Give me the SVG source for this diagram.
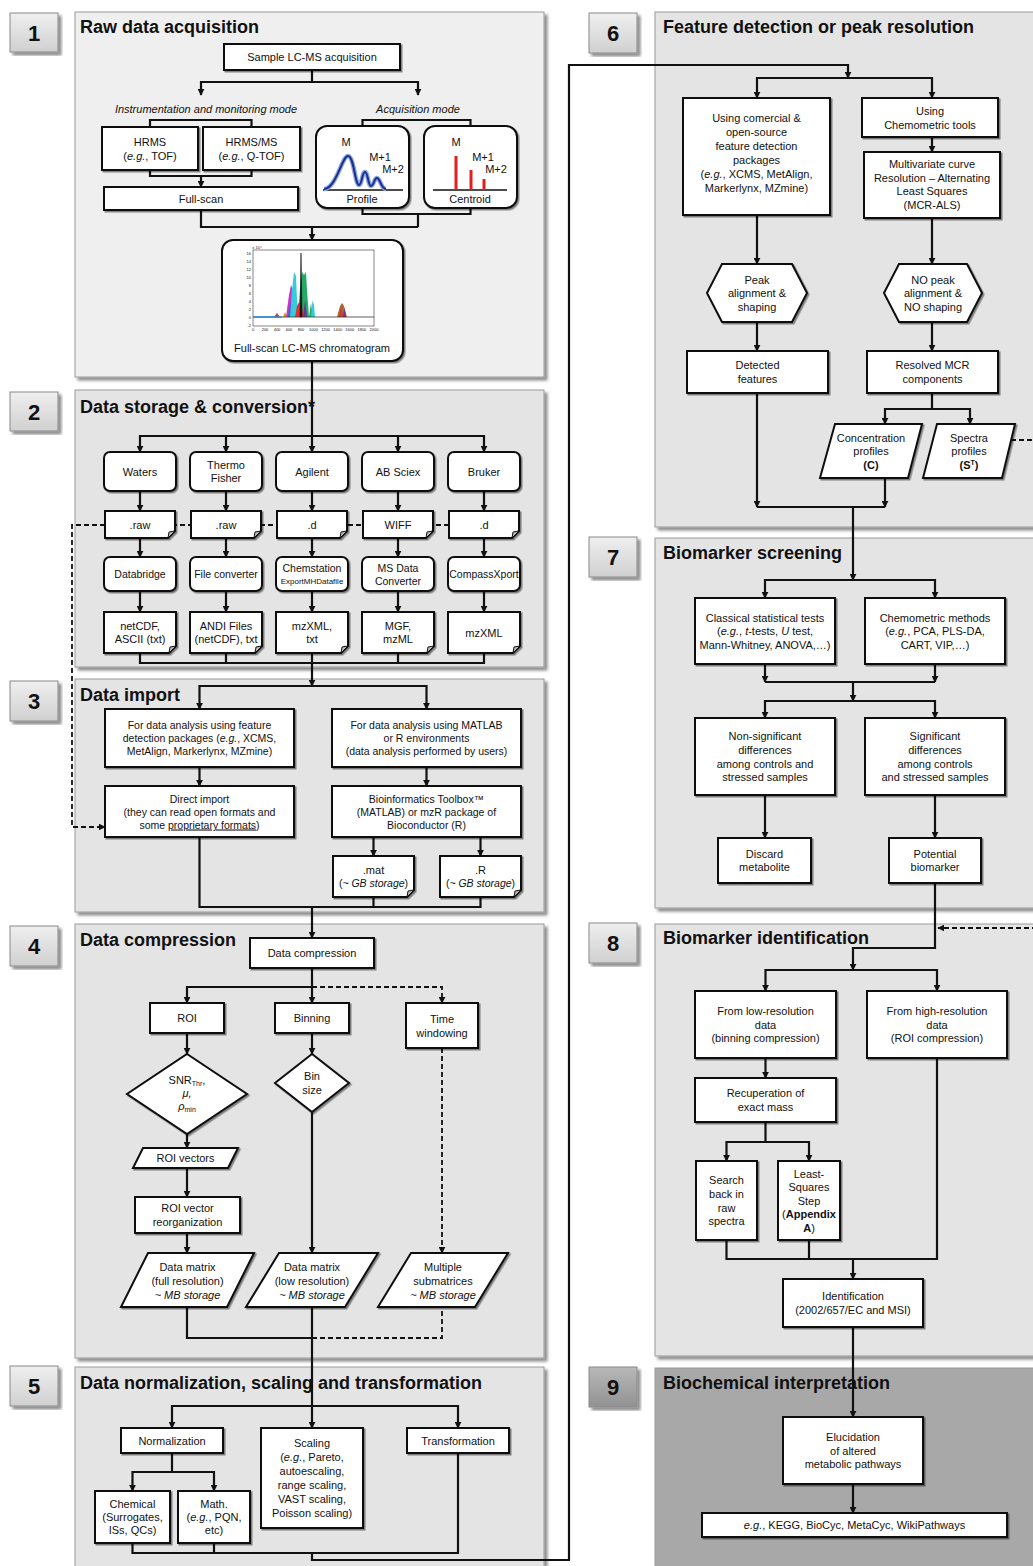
<svg xmlns="http://www.w3.org/2000/svg" width="1033" height="1566" viewBox="0 0 1033 1566">
<defs>
<style>
text{font-family:"Liberation Sans",Arial,Helvetica,sans-serif;fill:#111}
.t{font-size:11px;text-anchor:middle}
.s{font-size:10.5px}
.i{font-style:italic}
.b{font-weight:bold}
.ttl{font-size:18px;font-weight:bold}
.num{font-size:22px;font-weight:bold;text-anchor:middle}
.panel{fill:#e4e4e4;stroke:#9a9a9a;stroke-width:1;filter:url(#psh)}
.nbox{fill:url(#ng);stroke:#8a8a8a;stroke-width:1;filter:url(#psh)}
.bx{fill:#fff;stroke:#111;stroke-width:2;filter:url(#sh)}
.ln{fill:none;stroke:#111;stroke-width:2.2}
.ar{marker-end:url(#ah)}
.ds{stroke-dasharray:5 3;stroke-width:1.8}
.fold{fill:#bbb;stroke:#111;stroke-width:1}
.tiny{font-size:4px;text-anchor:middle}
</style>
<linearGradient id="ng" x1="0" y1="0" x2="0" y2="1"><stop offset="0" stop-color="#efefef"/><stop offset="1" stop-color="#d0d0d0"/></linearGradient>
<linearGradient id="ng9" x1="0" y1="0" x2="0" y2="1"><stop offset="0" stop-color="#b8b8b8"/><stop offset="1" stop-color="#929292"/></linearGradient>
<filter id="sh" x="-10%" y="-10%" width="130%" height="140%"><feDropShadow dx="1.5" dy="1.5" stdDeviation="0.7" flood-color="#000" flood-opacity="0.45"/></filter>
<filter id="psh" x="-5%" y="-5%" width="115%" height="115%"><feDropShadow dx="3" dy="3" stdDeviation="1.5" flood-color="#000" flood-opacity="0.45"/></filter>
<marker id="ah" viewBox="0 0 10 10" refX="9" refY="5" markerWidth="7" markerHeight="7" markerUnits="userSpaceOnUse" orient="auto"><path d="M0,0 L10,5 L0,10 z" fill="#111"/></marker>
</defs>
<rect width="1033" height="1566" fill="#fff"/>

<g id="panels">
<g id="panel1"><rect class="panel" x="75" y="12" width="469" height="365" style="fill:#efefef"/><text class="ttl" x="80" y="33">Raw data acquisition</text></g>
<g id="panel2"><rect class="panel" x="75" y="390" width="469" height="277"/><text class="ttl" x="80" y="413">Data storage &amp; conversion*</text></g>
<g id="panel3"><rect class="panel" x="75" y="679" width="469" height="233"/><text class="ttl" x="80" y="701">Data import</text></g>
<g id="panel4"><rect class="panel" x="75" y="924" width="469" height="434"/><text class="ttl" x="80" y="946">Data compression</text></g>
<g id="panel5"><rect class="panel" x="75" y="1367" width="469" height="210"/><text class="ttl" x="80" y="1389">Data normalization, scaling and transformation</text></g>
<g id="panel6"><rect class="panel" x="655" y="12" width="385" height="515"/><text class="ttl" x="663" y="33">Feature detection or peak resolution</text></g>
<g id="panel7"><rect class="panel" x="655" y="538" width="385" height="370"/><text class="ttl" x="663" y="559">Biomarker screening</text></g>
<g id="panel8"><rect class="panel" x="655" y="924" width="385" height="432"/><text class="ttl" x="663" y="944">Biomarker identification</text></g>
<g id="panel9"><rect class="panel" x="655" y="1368" width="385" height="210" style="fill:#a8a8a8"/><text class="ttl" x="663" y="1389">Biochemical  interpretation</text></g>
</g>

<g id="steps">
<g id="step1"><rect class="nbox" x="10" y="13" width="48" height="39"/><text class="num" x="34" y="40.5">1</text></g>
<g id="step2"><rect class="nbox" x="10" y="392" width="48" height="39"/><text class="num" x="34" y="419.5">2</text></g>
<g id="step3"><rect class="nbox" x="10" y="681" width="48" height="40"/><text class="num" x="34" y="709">3</text></g>
<g id="step4"><rect class="nbox" x="10" y="926" width="48" height="40"/><text class="num" x="34" y="954">4</text></g>
<g id="step5"><rect class="nbox" x="10" y="1366" width="48" height="40"/><text class="num" x="34" y="1394">5</text></g>
<g id="step6"><rect class="nbox" x="589" y="13" width="48" height="40"/><text class="num" x="613" y="41">6</text></g>
<g id="step7"><rect class="nbox" x="589" y="537" width="48" height="40"/><text class="num" x="613" y="565">7</text></g>
<g id="step8"><rect class="nbox" x="589" y="923" width="48" height="40"/><text class="num" x="613" y="951">8</text></g>
<g id="step9"><rect class="nbox" x="589" y="1367" width="48" height="40" style="fill:url(#ng9)"/><text class="num" x="613" y="1395">9</text></g>
</g>

<g id="connectors">
<!-- section 1 -->
<path class="ln ar" d="M312,70 V82 H201 V95"/>
<path class="ln ar" d="M312,82 H418 V95"/>
<path class="ln" d="M150,127 V120 H251.5 V127"/>
<path class="ln" d="M150,170 V176 H251.5 V170"/>
<path class="ln ar" d="M201,176 V187"/>
<path class="ln" d="M362.5,126 V120 H470.5 V126"/>
<path class="ln" d="M362.5,208 V214 H470.5 V208"/>
<path class="ln" d="M418,214 V227"/>
<path class="ln" d="M201,210 V227 H418"/>
<path class="ln ar" d="M312,227 V240"/>
<!-- section 2 -->
<path class="ln ar" d="M312,361 V452"/>
<path class="ln ar" d="M312,436 H140 V452"/>
<path class="ln ar" d="M226,436 V452"/>
<path class="ln ar" d="M312,436 H484 V452"/>
<path class="ln ar" d="M398,436 V452"/>
<path class="ln ds ar" d="M449,525 H72 V827 H105"/>
<path class="ln ar" d="M140,491 V511"/><path class="ln ar" d="M226,491 V511"/><path class="ln ar" d="M312,491 V511"/><path class="ln ar" d="M398,491 V511"/><path class="ln ar" d="M484,491 V511"/>
<path class="ln ar" d="M140,538 V557"/><path class="ln ar" d="M226,538 V557"/><path class="ln ar" d="M312,538 V557"/><path class="ln ar" d="M398,538 V557"/><path class="ln ar" d="M484,538 V557"/>
<path class="ln ar" d="M140,591 V612"/><path class="ln ar" d="M226,591 V612"/><path class="ln ar" d="M312,591 V612"/><path class="ln ar" d="M398,591 V612"/><path class="ln ar" d="M484,591 V612"/>
<path class="ln" d="M140,653 V663 H484 V653"/>
<path class="ln" d="M226,653 V663"/><path class="ln" d="M398,653 V663"/>
<!-- section 3 -->
<path class="ln ar" d="M312,653 V686"/>
<path class="ln ar" d="M312,686 H199.5 V709"/>
<path class="ln ar" d="M312,686 H426.5 V709"/>
<path class="ln ar" d="M199.5,767 V786"/>
<path class="ln ar" d="M426.5,767 V786"/>
<path class="ln ar" d="M373.5,837 V856"/>
<path class="ln ar" d="M480.5,837 V856"/>
<path class="ln" d="M199.5,837 V907 H480.5 V897"/>
<path class="ln" d="M373.5,897 V907"/>
<!-- section 4 -->
<path class="ln ar" d="M312,907 V938"/>
<path class="ln ar" d="M312,968 V987 H187 V1003"/>
<path class="ln ar" d="M312,987 V1003"/>
<path class="ln ds ar" d="M312,987 H442 V1003"/>
<path class="ln ar" d="M187,1033 V1054"/>
<path class="ln ar" d="M312,1033 V1054"/>
<path class="ln ds ar" d="M442,1048 V1253"/>
<path class="ln ar" d="M187,1134 V1148"/>
<path class="ln ar" d="M187,1168 V1197"/>
<path class="ln ar" d="M187,1233 V1253"/>
<path class="ln ar" d="M312,1112 V1253"/>
<path class="ln" d="M187,1307 V1338 H312"/>
<path class="ln ds" d="M312,1338 H442 V1307"/>
<!-- section 5 -->
<path class="ln ar" d="M312,1307 V1428"/>
<path class="ln ar" d="M312,1406 H172 V1428"/>
<path class="ln ar" d="M312,1406 H458 V1428"/>
<path class="ln ar" d="M172,1453 V1472 H132.5 V1491"/>
<path class="ln ar" d="M172,1472 H214 V1491"/>
<path class="ln" d="M132.5,1543 V1553 H458 V1453"/>
<path class="ln" d="M214,1543 V1553"/>
<path class="ln ar" d="M312,1553 V1560 H569 V65 H848 V78"/>
<!-- section 6 -->
<path class="ln ar" d="M848,78 H757 V98"/>
<path class="ln ar" d="M848,78 H932 V98"/>
<path class="ln ar" d="M932,137 V152"/>
<path class="ln ar" d="M757,215 V264"/>
<path class="ln ar" d="M932,218 V264"/>
<path class="ln ar" d="M757,322 V351"/>
<path class="ln ar" d="M932,322 V351"/>
<path class="ln ar" d="M932,393 V409 H885 V424"/>
<path class="ln ar" d="M932,409 H970 V424"/>
<path class="ln ar" d="M757,393 V507"/>
<path class="ln ar" d="M885,478 V507"/>
<path class="ln" d="M757,507 H885"/>
<path class="ln ds ar" d="M1011,440 H1040 V928 H938"/>
<!-- section 7 -->
<path class="ln ar" d="M853,507 V580"/>
<path class="ln ar" d="M853,580 H765 V598"/>
<path class="ln ar" d="M853,580 H935 V598"/>
<path class="ln ar" d="M765,664 V682"/>
<path class="ln ar" d="M935,664 V682"/>
<path class="ln" d="M765,682 H935"/>
<path class="ln ar" d="M853,682 V701"/>
<path class="ln ar" d="M853,701 H765 V718"/>
<path class="ln ar" d="M853,701 H935 V718"/>
<path class="ln ar" d="M765,795 V838"/>
<path class="ln ar" d="M935,795 V838"/>
<!-- section 8 -->
<path class="ln ar" d="M935,883 V948 H853 V970"/>
<path class="ln ar" d="M853,970 H765.5 V991"/>
<path class="ln ar" d="M853,970 H937 V991"/>
<path class="ln ar" d="M765.5,1058 V1078"/>
<path class="ln ar" d="M765.5,1122 V1142 H726.5 V1161"/>
<path class="ln ar" d="M765.5,1142 H809 V1161"/>
<path class="ln" d="M726.5,1240 V1259 H937 V1058"/>
<path class="ln" d="M809,1240 V1259"/>
<path class="ln ar" d="M853,1259 V1279"/>
<!-- section 9 -->
<path class="ln ar" d="M853,1327 V1417"/>
<path class="ln ar" d="M853,1484 V1513"/>
</g>

<g id="nodes">
<!-- section 1 -->
<g id="n-sample"><rect class="bx" x="224" y="44" width="176" height="26"/><text class="t" x="312" y="61">Sample LC-MS acquisition</text></g>
<g id="lbl-instr"><text class="t i" x="206" y="113">Instrumentation and monitoring mode</text></g>
<g id="lbl-acq"><text class="t i" x="418" y="113">Acquisition mode</text></g>
<g id="n-hrms"><rect class="bx" x="102" y="127" width="96" height="43"/><text class="t" x="150" y="146">HRMS</text><text class="t" x="150" y="160">(<tspan class="i">e.g.</tspan>, TOF)</text></g>
<g id="n-hrmsms"><rect class="bx" x="203" y="127" width="97" height="43"/><text class="t" x="251.5" y="146">HRMS/MS</text><text class="t" x="251.5" y="160">(<tspan class="i">e.g.</tspan>, Q-TOF)</text></g>
<g id="n-fullscan"><rect class="bx" x="104" y="187" width="194" height="23"/><text class="t" x="201" y="202.5">Full-scan</text></g>
<g id="n-profile"><rect class="bx" x="316" y="126" width="93" height="82" rx="11"/>
<text class="t" x="346" y="146">M</text><text class="t" x="380" y="161">M+1</text><text class="t" x="393" y="173">M+2</text>
<path d="M323,190 H403" stroke="#111" stroke-width="1.6"/>
<path d="M324,189 C336,189 342,156 348,156 C354,156 355,185 359,185 C362,185 362,172 365,172 C368,172 368,186 371,186 C374,186 374,178 377,178 C380,178 381,189 386,189" fill="none" stroke="#8aa4e6" stroke-width="4.5"/>
<path d="M324,189 C336,189 342,156 348,156 C354,156 355,185 359,185 C362,185 362,172 365,172 C368,172 368,186 371,186 C374,186 374,178 377,178 C380,178 381,189 386,189" fill="none" stroke="#1c2f8a" stroke-width="2"/>
<text class="t" x="362" y="203">Profile</text></g>
<g id="n-centroid"><rect class="bx" x="424" y="126" width="93" height="82" rx="11"/>
<text class="t" x="456" y="146">M</text><text class="t" x="483" y="161">M+1</text><text class="t" x="496" y="173">M+2</text>
<path d="M433,190 H507" stroke="#111" stroke-width="1.6"/>
<path d="M456,190 V156 M471,190 V170 M484,190 V179" stroke="#e0201e" stroke-width="3"/>
<text class="t" x="470" y="203">Centroid</text></g>
<g id="n-chromatogram"><rect class="bx" x="222" y="240" width="181" height="121" rx="11"/>
<rect x="253" y="250" width="121" height="76" fill="#fff" stroke="#333" stroke-width="0.6"/>
<text class="tiny" x="257" y="248.5">x 10⁴</text>
<g><text class="tiny" x="251" y="254.5" style="text-anchor:end">16</text><text class="tiny" x="251" y="262.5" style="text-anchor:end">14</text><text class="tiny" x="251" y="270.5" style="text-anchor:end">12</text><text class="tiny" x="251" y="278.5" style="text-anchor:end">10</text><text class="tiny" x="251" y="286.5" style="text-anchor:end">8</text><text class="tiny" x="251" y="294.5" style="text-anchor:end">6</text><text class="tiny" x="251" y="302.5" style="text-anchor:end">4</text><text class="tiny" x="251" y="310.5" style="text-anchor:end">2</text><text class="tiny" x="251" y="318.5" style="text-anchor:end">0</text><text class="tiny" x="251" y="326.5" style="text-anchor:end">-2</text></g>
<text class="tiny" x="253" y="331">0</text><text class="tiny" x="265" y="331">200</text><text class="tiny" x="277" y="331">400</text><text class="tiny" x="289" y="331">600</text><text class="tiny" x="301" y="331">800</text><text class="tiny" x="313.5" y="331">1000</text><text class="tiny" x="325.6" y="331">1200</text><text class="tiny" x="337.7" y="331">1400</text><text class="tiny" x="349.8" y="331">1600</text><text class="tiny" x="361.9" y="331">1800</text><text class="tiny" x="374" y="331">2000</text>
<polygon points="274,317 277,313 280,317" fill="#d33"/>
<polygon points="283,317 285,312 287,317" fill="#e80"/>
<polygon points="286,317 289,295 291,285 293,290 295,300 297,317" fill="#c3c"/>
<polygon points="288,317 290,300 292,317" fill="#36c"/>
<polygon points="290,317 292,290 294,272 296,276 297,300 299,317" fill="#3cd"/>
<polygon points="298,317 300,290 302,272 304,275 306,272 307,290 309,317" fill="#2a6"/>
<polygon points="295,317 297,306 299,302 302,308 304,317" fill="#d33"/>
<polygon points="303,317 305,300 307,317" fill="#639"/>
<polygon points="300,317 301,253 302,317" fill="#111" stroke="#111" stroke-width="0.6"/>
<polygon points="309,317 311,303 313,317" fill="#2a6"/>
<polygon points="311,317 312.5,300 314,305 315,317" fill="#3cd"/>
<polygon points="337,317 340,306 342,303 344,306 347,317" fill="#a63"/>
<polygon points="339,317 341,307 343,317" fill="#d33"/>
<polygon points="343,317 344.5,308 346,317" fill="#639"/>
<path d="M253,317 H374" stroke="#333" stroke-width="0.8"/>
<path d="M253,317 H282" stroke="#2a8fd8" stroke-width="1.6"/>
<text class="t" x="312" y="352">Full-scan LC-MS chromatogram</text></g>

<!-- section 2 -->
<g id="n-waters"><rect class="bx" x="104" y="452" width="72" height="39" rx="6"/><text class="t" x="140" y="475.5">Waters</text></g>
<g id="n-thermo"><rect class="bx" x="190" y="452" width="72" height="39" rx="6"/><text class="t" x="226" y="469">Thermo</text><text class="t" x="226" y="482">Fisher</text></g>
<g id="n-agilent"><rect class="bx" x="276" y="452" width="72" height="39" rx="6"/><text class="t" x="312" y="475.5">Agilent</text></g>
<g id="n-absciex"><rect class="bx" x="362" y="452" width="72" height="39" rx="6"/><text class="t" x="398" y="475.5">AB Sciex</text></g>
<g id="n-bruker"><rect class="bx" x="448" y="452" width="72" height="39" rx="6"/><text class="t" x="484" y="475.5">Bruker</text></g>

<g id="f-waters"><path class="bx" d="M105,511H175V531L168,538H105Z"/><path class="fold" d="M175,531L168,538L169,532Z"/><text class="t" x="140" y="528.5">.raw</text></g>
<g id="f-thermo"><path class="bx" d="M191,511H261V531L254,538H191Z"/><path class="fold" d="M261,531L254,538L255,532Z"/><text class="t" x="226" y="528.5">.raw</text></g>
<g id="f-agilent"><path class="bx" d="M277,511H347V531L340,538H277Z"/><path class="fold" d="M347,531L340,538L341,532Z"/><text class="t" x="312" y="528.5">.d</text></g>
<g id="f-absciex"><path class="bx" d="M363,511H433V531L426,538H363Z"/><path class="fold" d="M433,531L426,538L427,532Z"/><text class="t" x="398" y="528.5">WIFF</text></g>
<g id="f-bruker"><path class="bx" d="M449,511H519V531L512,538H449Z"/><path class="fold" d="M519,531L512,538L513,532Z"/><text class="t" x="484" y="528.5">.d</text></g>

<g id="c-databridge"><rect class="bx" x="104" y="557" width="72" height="34" rx="6"/><text class="t s" x="140" y="578">Databridge</text></g>
<g id="c-fileconv"><rect class="bx" x="190" y="557" width="72" height="34" rx="6"/><text class="t s" x="226" y="578">File converter</text></g>
<g id="c-chemstation"><rect class="bx" x="276" y="557" width="72" height="34" rx="6"/><text class="t s" x="312" y="572">Chemstation</text><text class="t" x="312" y="584" style="font-size:8px">ExportMHDatafile</text></g>
<g id="c-msdata"><rect class="bx" x="362" y="557" width="72" height="34" rx="6"/><text class="t s" x="398" y="571.5">MS Data</text><text class="t s" x="398" y="584.5">Converter</text></g>
<g id="c-compass"><rect class="bx" x="448" y="557" width="72" height="34" rx="6"/><text class="t s" x="484" y="578">CompassXport</text></g>

<g id="o-waters"><path class="bx" d="M104,612H176V646L169,653H104Z"/><path class="fold" d="M176,646L169,653L170,647Z"/><text class="t" x="140" y="630">netCDF,</text><text class="t" x="140" y="643">ASCII (txt)</text></g>
<g id="o-thermo"><path class="bx" d="M190,612H262V646L255,653H190Z"/><path class="fold" d="M262,646L255,653L256,647Z"/><text class="t" x="226" y="630">ANDI Files</text><text class="t" x="226" y="643">(netCDF), txt</text></g>
<g id="o-agilent"><path class="bx" d="M276,612H348V646L341,653H276Z"/><path class="fold" d="M348,646L341,653L342,647Z"/><text class="t" x="312" y="630">mzXML,</text><text class="t" x="312" y="643">txt</text></g>
<g id="o-absciex"><path class="bx" d="M362,612H434V646L427,653H362Z"/><path class="fold" d="M434,646L427,653L428,647Z"/><text class="t" x="398" y="630">MGF,</text><text class="t" x="398" y="643">mzML</text></g>
<g id="o-bruker"><path class="bx" d="M448,612H520V646L513,653H448Z"/><path class="fold" d="M520,646L513,653L514,647Z"/><text class="t" x="484" y="636.5">mzXML</text></g>

<!-- section 3 -->
<g id="n-featpkg"><rect class="bx" x="105" y="709" width="189" height="58"/><text class="t s" x="199.5" y="729">For data analysis using feature</text><text class="t s" x="199.5" y="742">detection packages (<tspan class="i">e.g.</tspan>, XCMS,</text><text class="t s" x="199.5" y="755">MetAlign, Markerlynx, MZmine)</text></g>
<g id="n-matlabr"><rect class="bx" x="332" y="709" width="189" height="58"/><text class="t s" x="426.5" y="729">For data analysis using MATLAB</text><text class="t s" x="426.5" y="742">or R environments</text><text class="t s" x="426.5" y="755">(data analysis performed by users)</text></g>
<g id="n-direct"><rect class="bx" x="105" y="786" width="189" height="51"/><text class="t s" x="199.5" y="802.5">Direct import</text><text class="t s" x="199.5" y="815.5">(they can read open formats and</text><text class="t s" x="199.5" y="828.5">some <tspan text-decoration="underline">proprietary formats</tspan>)</text></g>
<g id="n-bioinf"><rect class="bx" x="332" y="786" width="189" height="51"/><text class="t s" x="426.5" y="802.5">Bioinformatics Toolbox™</text><text class="t s" x="426.5" y="815.5">(MATLAB) or mzR package of</text><text class="t s" x="426.5" y="828.5">Bioconductor (R)</text></g>
<g id="n-mat"><path class="bx" d="M333,856H414V890L407,897H333Z"/><path class="fold" d="M414,890L407,897L408,891Z"/><text class="t" x="373.5" y="874">.mat</text><text class="t s" x="373.5" y="887">(<tspan class="i">~ GB storage</tspan>)</text></g>
<g id="n-r"><path class="bx" d="M440,856H521V890L514,897H440Z"/><path class="fold" d="M521,890L514,897L515,891Z"/><text class="t" x="480.5" y="874">.R</text><text class="t s" x="480.5" y="887">(<tspan class="i">~ GB storage</tspan>)</text></g>

<!-- section 4 -->
<g id="n-datacomp"><rect class="bx" x="250" y="938" width="124" height="30"/><text class="t" x="312" y="957">Data compression</text></g>
<g id="n-roi"><rect class="bx" x="150" y="1003" width="74" height="30"/><text class="t" x="187" y="1022">ROI</text></g>
<g id="n-binning"><rect class="bx" x="275" y="1003" width="74" height="30"/><text class="t" x="312" y="1022">Binning</text></g>
<g id="n-timewin"><rect class="bx" x="406" y="1003" width="72" height="45"/><text class="t" x="442" y="1023">Time</text><text class="t" x="442" y="1037">windowing</text></g>
<g id="n-roiparams"><polygon class="bx" points="187,1054 247,1094 187,1134 127,1094"/><text class="t" x="187" y="1084">SNR<tspan font-size="7" dy="2">Thr</tspan><tspan dy="-2">,</tspan></text><text class="t i" x="187" y="1097">μ,</text><text class="t i" x="187" y="1110">ρ<tspan font-size="7" dy="2" font-style="normal">min</tspan></text></g>
<g id="n-binsize"><polygon class="bx" points="312,1054 349,1083 312,1112 275,1083"/><text class="t" x="312" y="1080">Bin</text><text class="t" x="312" y="1094">size</text></g>
<g id="n-roivec"><polygon class="bx" points="143,1148 238,1148 228,1168 133,1168"/><text class="t" x="185.5" y="1162">ROI vectors</text></g>
<g id="n-roireorg"><rect class="bx" x="135" y="1197" width="105" height="36"/><text class="t" x="187.5" y="1212">ROI vector</text><text class="t" x="187.5" y="1226">reorganization</text></g>
<g id="n-dmfull"><polygon class="bx" points="148,1253 254,1253 227,1307 121,1307"/><text class="t" x="187.5" y="1271">Data matrix</text><text class="t" x="187.5" y="1285">(full  resolution)</text><text class="t i" x="187.5" y="1299">~ MB storage</text></g>
<g id="n-dmlow"><polygon class="bx" points="279,1253 378,1253 345,1307 246,1307"/><text class="t" x="312" y="1271">Data matrix</text><text class="t" x="312" y="1285">(low resolution)</text><text class="t i" x="312" y="1299">~ MB storage</text></g>
<g id="n-multi"><polygon class="bx" points="411,1253 508,1253 475,1307 378,1307"/><text class="t" x="443" y="1271">Multiple</text><text class="t" x="443" y="1285">submatrices</text><text class="t i" x="443" y="1299">~ MB storage</text></g>

<!-- section 5 -->
<g id="n-norm"><rect class="bx" x="121" y="1428" width="102" height="25"/><text class="t" x="172" y="1444.5">Normalization</text></g>
<g id="n-scaling"><rect class="bx" x="261" y="1428" width="102" height="100"/><text class="t" x="312" y="1447">Scaling</text><text class="t" x="312" y="1461">(<tspan class="i">e.g.</tspan>, Pareto,</text><text class="t" x="312" y="1475">autoescaling,</text><text class="t" x="312" y="1489">range scaling,</text><text class="t" x="312" y="1503">VAST scaling,</text><text class="t" x="312" y="1517">Poisson scaling)</text></g>
<g id="n-transf"><rect class="bx" x="407" y="1428" width="102" height="25"/><text class="t" x="458" y="1444.5">Transformation</text></g>
<g id="n-chem"><rect class="bx" x="95" y="1491" width="75" height="52"/><text class="t" x="132.5" y="1508">Chemical</text><text class="t" x="132.5" y="1521">(Surrogates,</text><text class="t" x="132.5" y="1534">ISs, QCs)</text></g>
<g id="n-math"><rect class="bx" x="178" y="1491" width="72" height="52"/><text class="t" x="214" y="1508">Math.</text><text class="t" x="214" y="1521">(<tspan class="i">e.g.</tspan>, PQN,</text><text class="t" x="214" y="1534">etc)</text></g>

<!-- section 6 -->
<g id="n-comercial"><rect class="bx" x="683" y="98" width="147" height="117"/><text class="t" x="756.5" y="122">Using comercial &amp;</text><text class="t" x="756.5" y="136">open-source</text><text class="t" x="756.5" y="150">feature detection</text><text class="t" x="756.5" y="164">packages</text><text class="t" x="756.5" y="178">(<tspan class="i">e.g.</tspan>, XCMS, MetAlign,</text><text class="t" x="756.5" y="192">Markerlynx, MZmine)</text></g>
<g id="n-chemtools"><rect class="bx" x="862" y="98" width="136" height="39"/><text class="t" x="930" y="115">Using</text><text class="t" x="930" y="128.5">Chemometric tools</text></g>
<g id="n-mcrals"><rect class="bx" x="864" y="152" width="136" height="66"/><text class="t" x="932" y="168">Multivariate curve</text><text class="t" x="932" y="181.5">Resolution – Alternating</text><text class="t" x="932" y="195">Least Squares</text><text class="t" x="932" y="208.5">(MCR-ALS)</text></g>
<g id="n-peakalign"><polygon class="bx" points="707,293 722,264 792,264 807,293 792,322 722,322"/><text class="t" x="757" y="283.5">Peak</text><text class="t" x="757" y="297">alignment &amp;</text><text class="t" x="757" y="310.5">shaping</text></g>
<g id="n-nopeak"><polygon class="bx" points="884,293 899,264 967,264 982,293 967,322 899,322"/><text class="t" x="933" y="283.5">NO peak</text><text class="t" x="933" y="297">alignment &amp;</text><text class="t" x="933" y="310.5">NO shaping</text></g>
<g id="n-detected"><rect class="bx" x="687" y="351" width="141" height="42"/><text class="t" x="757.5" y="369">Detected</text><text class="t" x="757.5" y="383">features</text></g>
<g id="n-resolved"><rect class="bx" x="867" y="351" width="131" height="42"/><text class="t" x="932.5" y="369">Resolved MCR</text><text class="t" x="932.5" y="383">components</text></g>
<g id="n-conc"><polygon class="bx" points="835,424 922,424 908,478 820,478"/><text class="t" x="871" y="441.5">Concentration</text><text class="t" x="871" y="455">profiles</text><text class="t b" x="871" y="468.5">(C)</text></g>
<g id="n-spectra"><polygon class="bx" points="937,424 1015,424 1002,478 923,478"/><text class="t" x="969" y="441.5">Spectra</text><text class="t" x="969" y="455">profiles</text><text class="t b" x="969" y="468.5">(S<tspan font-size="7" dy="-4">T</tspan><tspan dy="4">)</tspan></text></g>

<!-- section 7 -->
<g id="n-classical"><rect class="bx" x="695" y="598" width="140" height="66"/><text class="t" x="765" y="621.5">Classical statistical tests</text><text class="t" x="765" y="635">(<tspan class="i">e.g.</tspan>, <tspan class="i">t</tspan>-tests, <tspan class="i">U</tspan> test,</text><text class="t" x="765" y="648.5">Mann-Whitney, ANOVA,…)</text></g>
<g id="n-chemmeth"><rect class="bx" x="865" y="598" width="140" height="66"/><text class="t" x="935" y="621.5">Chemometric methods</text><text class="t" x="935" y="635">(<tspan class="i">e.g.</tspan>, PCA, PLS-DA,</text><text class="t" x="935" y="648.5">CART, VIP,…)</text></g>
<g id="n-nonsig"><rect class="bx" x="695" y="718" width="140" height="77"/><text class="t" x="765" y="740">Non-significant</text><text class="t" x="765" y="754">differences</text><text class="t" x="765" y="767.5">among controls and</text><text class="t" x="765" y="781">stressed samples</text></g>
<g id="n-sig"><rect class="bx" x="865" y="718" width="140" height="77"/><text class="t" x="935" y="740">Significant</text><text class="t" x="935" y="754">differences</text><text class="t" x="935" y="767.5">among controls</text><text class="t" x="935" y="781">and stressed samples</text></g>
<g id="n-discard"><rect class="bx" x="718" y="838" width="93" height="45"/><text class="t" x="764.5" y="857.5">Discard</text><text class="t" x="764.5" y="871">metabolite</text></g>
<g id="n-potential"><rect class="bx" x="889" y="838" width="92" height="45"/><text class="t" x="935" y="857.5">Potential</text><text class="t" x="935" y="871">biomarker</text></g>

<!-- section 8 -->
<g id="n-lowres"><rect class="bx" x="695" y="991" width="141" height="67"/><text class="t" x="765.5" y="1015">From low-resolution</text><text class="t" x="765.5" y="1028.5">data</text><text class="t" x="765.5" y="1042">(binning compression)</text></g>
<g id="n-highres"><rect class="bx" x="867" y="991" width="140" height="67"/><text class="t" x="937" y="1015">From high-resolution</text><text class="t" x="937" y="1028.5">data</text><text class="t" x="937" y="1042">(ROI compression)</text></g>
<g id="n-recup"><rect class="bx" x="695" y="1078" width="141" height="44"/><text class="t" x="765.5" y="1097">Recuperation of</text><text class="t" x="765.5" y="1111">exact mass</text></g>
<g id="n-search"><rect class="bx" x="696" y="1161" width="61" height="79"/><text class="t" x="726.5" y="1184">Search</text><text class="t" x="726.5" y="1198">back in</text><text class="t" x="726.5" y="1211.5">raw</text><text class="t" x="726.5" y="1225">spectra</text></g>
<g id="n-lsq"><rect class="bx" x="778" y="1161" width="62" height="79"/><text class="t" x="809" y="1177.5">Least-</text><text class="t" x="809" y="1191">Squares</text><text class="t" x="809" y="1204.5">Step</text><text class="t" x="809" y="1218">(<tspan class="b">Appendix</tspan></text><text class="t" x="809" y="1231.5"><tspan class="b">A</tspan>)</text></g>
<g id="n-ident"><rect class="bx" x="783" y="1279" width="140" height="48"/><text class="t" x="853" y="1300">Identification</text><text class="t" x="853" y="1314">(2002/657/EC and MSI)</text></g>

<!-- section 9 -->
<g id="n-elucid"><rect class="bx" x="783" y="1417" width="140" height="67"/><text class="t" x="853" y="1441">Elucidation</text><text class="t" x="853" y="1454.5">of altered</text><text class="t" x="853" y="1468">metabolic pathways</text></g>
<g id="n-kegg"><rect class="bx" x="702" y="1513" width="305" height="24"/><text class="t" x="854.5" y="1529"><tspan class="i">e.g.</tspan>, KEGG, BioCyc, MetaCyc, WikiPathways</text></g>
</g>
</svg>
